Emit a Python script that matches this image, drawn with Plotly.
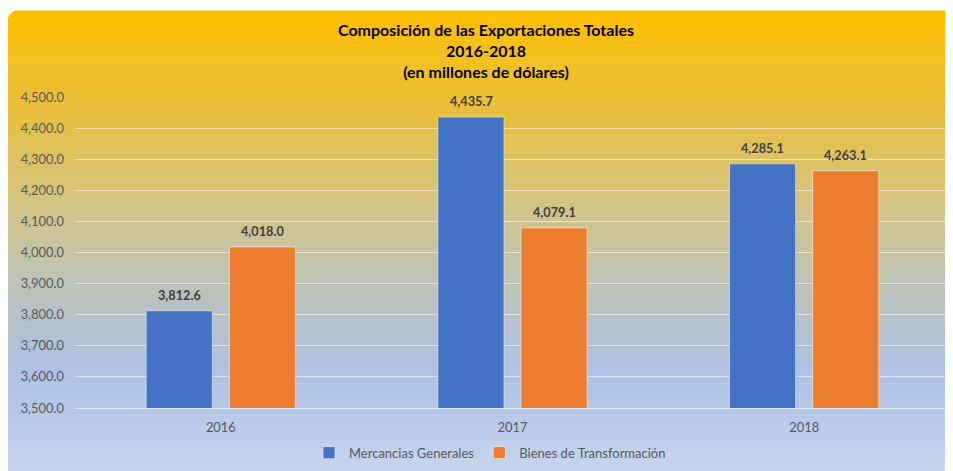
import plotly.graph_objects as go

# data
years = ['2016', '2017', '2018']
mercancias = [3812.6, 4435.7, 4285.1]
bienes = [4018.0, 4079.1, 4263.1]
tick_vals = [3500 + 100 * i for i in range(11)]
tick_text = ['{:,.1f}'.format(v) for v in tick_vals]

# page body has an 8px margin, so the figure sits at (8, 8) in the screenshot
OFF = 8
W, H = 953 - OFF, 471 - OFF
L, R, T, B = 75 - OFF, 3, 97 - OFF, 61

def px(x):
    return (x - OFF - L) / (W - L - R)

def py(y):
    return (H - B - (y - OFF)) / (H - T - B)

# gradient stops (screen pixel y, rgb)
stops = [(10, (255, 192, 0)), (95, (235, 190, 50)), (190, (215, 195, 120)),
         (280, (190, 195, 180)), (370, (172, 191, 226)), (471, (198, 212, 238))]

def col(y):
    for (y0, c0), (y1, c1) in zip(stops, stops[1:]):
        if y0 <= y <= y1:
            t = (y - y0) / (y1 - y0)
            return 'rgb(%d,%d,%d)' % tuple(round(a + (b - a) * t) for a, b in zip(c0, c1))
    return 'rgb(%d,%d,%d)' % stops[-1][1]

shapes = []
step = 3
for y in range(10, 471 + 3, step):
    shapes.append(dict(type='rect', xref='paper', yref='paper', layer='below',
                       x0=px(8), x1=px(960), y0=py(y + step + 0.5), y1=py(y),
                       fillcolor=col(y + step / 2), line=dict(width=0)))
# rounded top-left corner
r = 12
shapes.append(dict(type='path', xref='paper', yref='paper', layer='below',
                   path='M %f,%f L %f,%f Q %f,%f %f,%f Z' % (
                       px(7), py(9), px(8 + r), py(9), px(8), py(10), px(7), py(10 + r)),
                   fillcolor='white', line=dict(width=0)))

fig = go.Figure()
fig.add_trace(go.Bar(x=years, y=mercancias, name='Mercancias Generales',
                     marker=dict(color='#4472C4', line=dict(color='rgba(255,255,255,0.5)', width=1))))
fig.add_trace(go.Bar(x=years, y=bienes, name='Bienes de Transformación',
                     marker=dict(color='#ED7D31', line=dict(color='rgba(255,255,255,0.5)', width=1))))

# value labels (category axis takes the index, '2016' would be read as index 2016)
anns = []
for i, yr in enumerate(years):
    for j, vals in enumerate([mercancias, bienes]):
        anns.append(dict(x=i, y=vals[i], xshift=(-41.5 if j == 0 else 41.5), yshift=6,
                         text='{:,.1f}'.format(vals[i]), showarrow=False, yanchor='bottom',
                         font=dict(family='Lato', size=12.7, color='#404040', weight='bold')))
anns.append(dict(x=px(486), y=py(50), xref='paper', yref='paper', showarrow=False,
                 xanchor='center', yanchor='middle',
                 text='<b>Composición de las Exportaciones Totales<br>2016-2018<br>(en millones de dólares)</b>',
                 font=dict(family='Lato', size=16, color='black')))

fig.update_layout(
    width=W, height=H,
    margin=dict(l=L, r=R, t=T, b=B),
    paper_bgcolor='white', plot_bgcolor='rgba(0,0,0,0)',
    barmode='group', bargap=0.43, bargroupgap=0.205,
    shapes=shapes, annotations=anns,
    showlegend=True,
    legend=dict(orientation='h', x=px(490), xanchor='center', y=py(455), yanchor='middle',
                font=dict(family='Lato', size=13, color='#595959'), bgcolor='rgba(0,0,0,0)',
                traceorder='normal'),
    font=dict(family='Lato', color='#595959'),
)
fig.update_yaxes(range=[3500, 4500], tickvals=tick_vals, ticktext=tick_text,
                 gridcolor='rgba(255,255,255,0.55)', gridwidth=1, zeroline=False,
                 tickfont=dict(size=12.9, color='#595959'), ticklabelstandoff=10)
fig.update_xaxes(type='category', range=[-0.5, 2.5], autorange=False,
                 showline=True, linecolor='rgba(255,255,255,0.6)', linewidth=1,
                 tickfont=dict(size=12.9, color='#595959'), ticklabelstandoff=8)

fig.write_html("out.html")
